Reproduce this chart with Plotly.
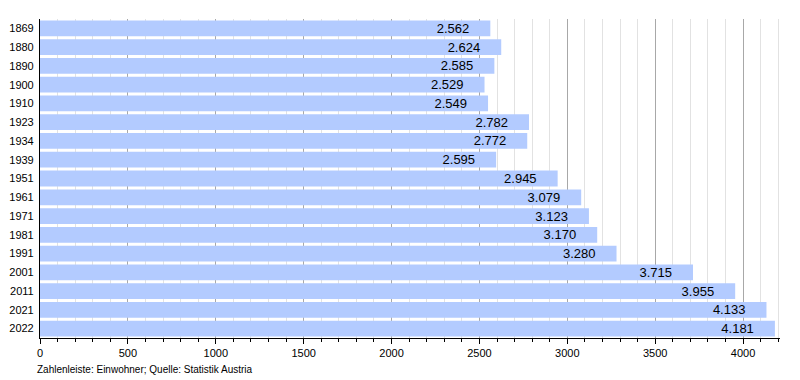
import plotly.graph_objects as go

years = ["1869", "1880", "1890", "1900", "1910", "1923", "1934", "1939", "1951",
         "1961", "1971", "1981", "1991", "2001", "2011", "2021", "2022"]
population = [2562, 2624, 2585, 2529, 2549, 2782, 2772, 2595, 2945,
              3079, 3123, 3170, 3280, 3715, 3955, 4133, 4181]
labels = [f"{v:,}".replace(",", ".") + "\u00a0" * 5 for v in population]

fig = go.Figure(go.Bar(
    y=years, x=population, orientation="h",
    marker=dict(color="#b3cbff", line=dict(width=0)),
    text=labels, textposition="inside", insidetextanchor="end",
    textfont=dict(color="#000000", size=13, family="Liberation Sans, Arial, sans-serif"),
    width=0.84, cliponaxis=False,
))

fig.update_layout(
    width=792, height=372,
    margin=dict(l=32, r=20, t=11, b=42, autoexpand=False),
    plot_bgcolor="white", paper_bgcolor="white",
    font=dict(family="Liberation Sans, Arial, sans-serif", size=11, color="#000"),
    showlegend=False,
    uniformtext=dict(minsize=13, mode="show"),
    annotations=[dict(
        text="Zahlenleiste: Einwohner; Quelle: Statistik Austria",
        xref="paper", yref="paper", x=-0.007, y=-0.1,
        xanchor="left", yanchor="middle", showarrow=False,
        font=dict(size=10, color="#000"),
    )],
)
fig.update_xaxes(
    range=[0, 4210], dtick=500, tick0=0, automargin=False,
    showgrid=True, gridcolor="#a8a8a8", gridwidth=1,
    showline=True, linecolor="#000", linewidth=1,
    ticks="outside", ticklen=5, tickcolor="#000",
    tickfont=dict(size=11),
    zeroline=False,
    minor=dict(dtick=100, tick0=0, showgrid=True, gridcolor="#e2e2e2", gridwidth=1,
               ticks="outside", ticklen=3, tickcolor="#000"),
)
fig.update_yaxes(
    autorange="reversed", showgrid=False, automargin=False,
    showline=True, linecolor="#000", linewidth=1,
    ticks="", tickfont=dict(size=11), ticksuffix=" ",
)

fig.write_html("out.html")
